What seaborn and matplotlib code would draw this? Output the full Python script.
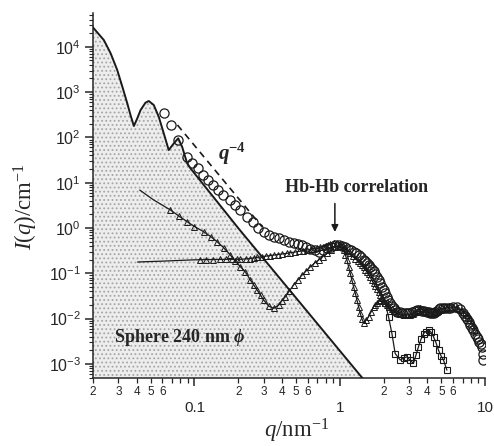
import numpy as np
import matplotlib
matplotlib.use("Agg")
import matplotlib.pyplot as plt
import seaborn as sns
from matplotlib.ticker import FixedLocator, FuncFormatter, LogLocator, NullFormatter

# form factor of the 240 nm sphere (solid line, shaded below)
sphere_q = [0.020, 0.0238, 0.0265, 0.0294, 0.0319, 0.0345, 0.0363, 0.0383, 0.0404, 0.0426,
            0.0460, 0.0485, 0.0525, 0.0568, 0.0615, 0.0665, 0.0721, 0.0773, 0.0823, 0.0891,
            0.0939, 0.20, 1.43, 1.60]
sphere_I = [2.7e4, 1.41e4, 7.2e3, 3.1e3, 1.32e3, 566, 312, 179, 263, 403,
            584, 637, 519, 286, 123, 52.7, 74, 95.5, 62, 26.8,
            20.8, 1.0, 4.9e-4, 3.1e-4]

# q^-4 guide
q4_q = [0.0764, 0.293]
q4_I = [188, 1.05]

# open circles
circ_q = [0.0615, 0.0695, 0.0773, 0.0891, 0.0964, 0.1065, 0.1153, 0.1248, 0.1351, 0.1462,
          0.1582, 0.1767, 0.1913, 0.207, 0.231, 0.254, 0.275, 0.299, 0.325, 0.351,
          0.38, 0.411, 0.445, 0.481, 0.515, 0.55, 0.59, 0.627, 0.67, 0.715,
          0.765, 0.817, 0.87, 0.931, 0.98, 1.04, 1.09, 1.14, 1.19, 1.244, 1.30, 1.35, 1.40, 1.458,
          1.50, 1.54, 1.58, 1.622, 1.66, 1.71, 1.76, 1.803, 1.85, 1.9, 1.95, 2.0, 2.05, 2.11, 2.16, 2.223, 2.29, 2.35, 2.41, 2.472,
          2.58, 2.68, 2.79, 2.896, 3.01, 3.14, 3.27, 3.394, 3.53, 3.68, 3.82, 3.97, 4.08, 4.18, 4.30, 4.415, 4.53, 4.65, 4.78, 4.91,
          5.1, 5.3, 5.52, 5.74, 6.05, 6.38, 6.72, 7.09, 7.3, 7.5, 7.7, 7.89, 8.1, 8.3, 8.55, 8.77,
          8.95, 9.1, 9.3, 9.49, 9.6, 9.73]
circ_I = [351, 188, 87.7, 37.5, 26.8, 21.1, 14.8, 11.5, 8.9, 6.9,
          5.35, 4.15, 3.22, 2.5, 1.75, 1.36, 0.98, 0.83, 0.72, 0.643,
          0.59, 0.543, 0.50, 0.473, 0.45, 0.421, 0.38, 0.339, 0.32, 0.30,
          0.32, 0.356, 0.39, 0.421, 0.42, 0.40, 0.375, 0.35, 0.325, 0.30, 0.275, 0.25, 0.225, 0.197,
          0.183, 0.17, 0.155, 0.14, 0.125, 0.11, 0.096, 0.0841, 0.072, 0.06, 0.051, 0.0428, 0.036, 0.030, 0.0255, 0.0218, 0.019, 0.017, 0.0155, 0.0142,
          0.0138, 0.0135, 0.0132, 0.0131, 0.0136, 0.0142, 0.0149, 0.0155, 0.0153, 0.0150, 0.0146, 0.0142, 0.0138, 0.0135, 0.0132, 0.0131, 0.0138, 0.0150, 0.0160, 0.0169,
          0.0171, 0.0172, 0.0170, 0.0169, 0.0178, 0.0183, 0.0165, 0.0131, 0.0115, 0.0100, 0.0085, 0.00722, 0.0063, 0.0055, 0.0047, 0.0040,
          0.0035, 0.0031, 0.0027, 0.0024, 0.0017, 0.00122]

# flat series (small triangles)
tri_q = [0.0406, 0.060, 0.097, 0.11, 0.12, 0.135, 0.15, 0.165, 0.18, 0.195, 0.207, 0.225, 0.24, 0.255, 0.27, 0.29, 0.31,
         0.33, 0.351, 0.375, 0.40, 0.43, 0.457, 0.49, 0.52, 0.555, 0.595, 0.63, 0.66, 0.70, 0.735, 0.77, 0.80, 0.83, 0.861, 0.91, 0.957,
         1.008, 1.05, 1.09, 1.13, 1.18, 1.23, 1.28, 1.33, 1.383, 1.42, 1.46, 1.50, 1.538, 1.58, 1.62, 1.66, 1.707, 1.75, 1.80,
         1.85, 1.898, 1.95, 2.0, 2.05, 2.11, 2.19, 2.28, 2.37, 2.472, 2.6, 2.75, 2.9, 3.05, 3.17, 3.3, 3.43, 3.57, 3.7, 3.85,
         4.0, 4.19, 4.37, 4.55, 4.72, 4.91, 5.17, 5.45, 5.75, 6.05, 6.3, 6.55, 6.8, 7.09, 7.3, 7.5, 7.7, 7.89, 8.2, 8.53]
tri_I = [0.178, 0.186, 0.198, 0.200, 0.201, 0.202, 0.203, 0.204, 0.204, 0.204, 0.204, 0.208, 0.212, 0.218, 0.225, 0.232, 0.24,
         0.246, 0.253, 0.26, 0.268, 0.276, 0.285, 0.295, 0.305, 0.315, 0.327, 0.338, 0.35, 0.362, 0.375, 0.39, 0.41, 0.425, 0.443, 0.46, 0.473,
         0.45, 0.405, 0.36, 0.315, 0.276, 0.24, 0.21, 0.188, 0.166, 0.15, 0.135, 0.12, 0.108, 0.095, 0.082, 0.071, 0.060, 0.052, 0.045,
         0.039, 0.0332, 0.029, 0.025, 0.0225, 0.020, 0.018, 0.016, 0.0145, 0.0131, 0.0126, 0.0122, 0.0121, 0.0120, 0.0128, 0.0140, 0.0155, 0.0169, 0.0160, 0.0150,
         0.0140, 0.0131, 0.0135, 0.0140, 0.0148, 0.0155, 0.0164, 0.0172, 0.0178, 0.0183, 0.0174, 0.0165, 0.0153, 0.0142, 0.0130, 0.0118, 0.0105, 0.0093, 0.0072, 0.0056]

# series with the minimum at 0.34 (thin line, small markers, squares at high q)
sq_q = [0.042, 0.0525, 0.0684, 0.078, 0.0891, 0.10, 0.1158, 0.13, 0.1432, 0.16,
        0.1767, 0.19, 0.207, 0.224, 0.2426, 0.256, 0.270, 0.285, 0.299, 0.324,
        0.351, 0.380, 0.40, 0.422, 0.45, 0.481, 0.515, 0.550, 0.59, 0.627,
        0.67, 0.715, 0.765, 0.817, 0.87, 0.931, 1.0, 1.062, 1.09, 1.12, 1.15, 1.18, 1.21,
        1.244, 1.28, 1.312, 1.35, 1.383, 1.42, 1.458, 1.51, 1.578, 1.64, 1.707, 1.75, 1.80, 1.85, 1.898,
        2.055, 2.165, 2.284, 2.405, 2.606, 2.75, 2.896, 3.05, 3.214, 3.35,
        3.48, 3.62, 3.77, 3.92, 4.08, 4.25, 4.415, 4.6, 4.78, 4.98,
        5.17, 5.46]
sq_I = [6.9, 4.15, 2.50, 1.85, 1.38, 1.08, 0.83, 0.64, 0.50, 0.36,
        0.253, 0.19, 0.14, 0.108, 0.0711, 0.055, 0.0428, 0.033, 0.0258, 0.019,
        0.0169, 0.020, 0.025, 0.0305, 0.041, 0.0552, 0.072, 0.0917, 0.115, 0.14,
        0.168, 0.197, 0.235, 0.276, 0.33, 0.387, 0.40, 0.327, 0.26, 0.197, 0.14, 0.10, 0.072,
        0.0506, 0.036, 0.0258, 0.018, 0.0131, 0.0098, 0.0081, 0.0092, 0.011, 0.014, 0.0183, 0.020, 0.022, 0.024, 0.0258,
        0.0218, 0.011, 0.0047, 0.0017, 0.00122, 0.00135, 0.00144, 0.0012, 0.00103, 0.0016,
        0.0024, 0.0035, 0.0047, 0.0052, 0.0056, 0.0050, 0.0040, 0.0029, 0.0020, 0.0015,
        0.00122, 0.00073]

sns.set_theme(style="ticks")
plt.rcParams.update({
    "font.family": ["Liberation Sans", "DejaVu Sans"],
    "mathtext.fontset": "custom",
    "mathtext.rm": "Liberation Serif",
    "mathtext.it": "Liberation Serif:italic",
    "mathtext.bf": "Liberation Serif:bold",
    "mathtext.bfit": "Liberation Serif:italic:bold",
    "axes.linewidth": 1.1,
    "hatch.linewidth": 0.8,
})

fig = plt.figure(figsize=(4.94, 4.46), dpi=100)
ax = fig.add_axes([0.188, 0.1525, 0.794, 0.8185])
ax.set_xscale("log")
ax.set_yscale("log")

# shaded sphere region (light stipple)
ax.fill_between(sphere_q, sphere_I, 1e-6, facecolor="#ededed", edgecolor="#a6a6a6",
                hatch="....", linewidth=0, zorder=0)
sns.lineplot(x=sphere_q, y=sphere_I, ax=ax, color="k", lw=1.4, estimator=None, zorder=3)
sns.lineplot(x=q4_q, y=q4_I, ax=ax, color="k", lw=1.2, linestyle=(0, (4, 3)), estimator=None)

# thin lines through the small-marker series
sns.lineplot(x=tri_q, y=tri_I, ax=ax, color="k", lw=0.9, estimator=None, zorder=2)
sns.lineplot(x=sq_q, y=sq_I, ax=ax, color="k", lw=0.9, estimator=None, zorder=2)

tq = np.array(tri_q); ti = np.array(tri_I)
m = tq >= 0.1
sns.lineplot(x=tq[m], y=ti[m], ax=ax, estimator=None, linestyle="", marker="^",
             markersize=4.0, mfc="none", mec="k", mew=0.7, zorder=4)

sq = np.array(sq_q); si = np.array(sq_I)
m1 = (sq >= 0.068) & (sq < 2.0)
m2 = sq >= 2.0
sns.lineplot(x=sq[m1], y=si[m1], ax=ax, estimator=None, linestyle="", marker="^",
             markersize=3.8, mfc="none", mec="k", mew=0.7, zorder=4)
sns.lineplot(x=sq[m2], y=si[m2], ax=ax, estimator=None, linestyle="", marker="s",
             markersize=3.8, mfc="none", mec="k", mew=0.8, zorder=4)

sns.lineplot(x=circ_q, y=circ_I, ax=ax, estimator=None, linestyle="", marker="o",
             markersize=6.6, mfc="none", mec="k", mew=0.9, zorder=5)

ax.set_xlim(0.02, 10)
ax.set_ylim(4.9e-4, 5.6e4)
sns.despine(ax=ax)

# x ticks: digits on minor ticks, decades below
ax.xaxis.set_major_locator(FixedLocator([0.1, 1, 10]))
ax.xaxis.set_major_formatter(FuncFormatter(lambda v, p: {0.1: "0.1", 1: "1", 10: "10"}.get(v, "")))
minors = [mm * 10.0 ** e for e in (-2, -1, 0) for mm in range(2, 10)]
ax.xaxis.set_minor_locator(FixedLocator(minors))


def minor_lab(v, p):
    mant = int(round(v / 10 ** np.floor(np.log10(v) + 1e-9)))
    return str(mant) if 2 <= mant <= 6 else ""


ax.xaxis.set_minor_formatter(FuncFormatter(minor_lab))
ax.tick_params(axis="x", which="major", direction="out", length=5.5, width=1.1, pad=11, labelsize=11)
ax.tick_params(axis="x", which="minor", direction="out", length=3.5, width=0.9, pad=2.5, labelsize=8.5)

ax.yaxis.set_major_locator(LogLocator(base=10, numticks=20))
ax.yaxis.set_minor_locator(LogLocator(base=10, subs=np.arange(2, 10), numticks=20))
ax.yaxis.set_minor_formatter(NullFormatter())
ax.yaxis.set_major_formatter(FuncFormatter(lambda v, p: r"$\mathdefault{10^{%d}}$" % round(np.log10(v))))
ax.tick_params(axis="y", which="major", direction="out", length=5.5, width=1.1, pad=3, labelsize=11.5)
ax.tick_params(axis="y", which="minor", direction="out", length=3, width=0.8)

ax.set_ylabel(r"$\mathit{I}(\mathit{q})/\mathrm{cm}^{-1}$", fontsize=16.5)
ax.yaxis.set_label_coords(-0.135, 0.47)
ax.set_xlabel(r"$\mathit{q}/\mathrm{nm}^{-1}$", fontsize=16.5)
ax.xaxis.set_label_coords(0.52, -0.105)

ax.text(0.673, 0.521, "Hb-Hb correlation", transform=ax.transAxes, ha="center", va="center",
        fontfamily="Liberation Serif", fontweight="bold", fontsize=13)
ax.text(0.222, 0.110, r"Sphere 240 nm $\mathbfit{\phi}$", transform=ax.transAxes, ha="center",
        va="center", fontfamily="Liberation Serif", fontweight="bold", fontsize=13)
ax.text(0.319, 0.597, r"$\mathbfit{q}^{\mathbf{-4}}$", transform=ax.transAxes, ha="left",
        va="baseline", fontsize=15)
ax.annotate("", xy=(0.617, 0.40), xytext=(0.617, 0.478), xycoords="axes fraction",
            arrowprops=dict(arrowstyle="-|>", color="k", lw=1.1, mutation_scale=10,
                            shrinkA=0, shrinkB=0))

fig.savefig("out.png", dpi=100)
